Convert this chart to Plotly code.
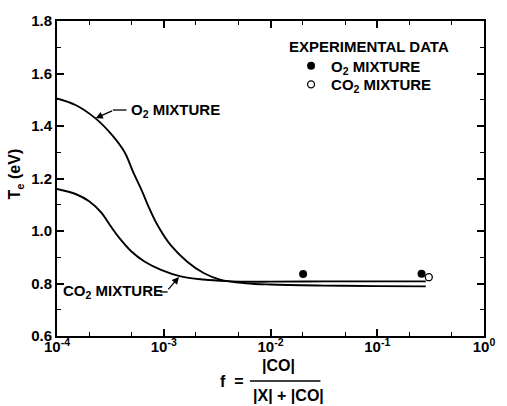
import numpy as np
import plotly.graph_objects as go

# ---- data ----
o2_f = [1.0e-4, 1.49e-4, 2.28e-4, 3.24e-4, 4.30e-4, 5.20e-4, 6.20e-4, 7.13e-4,
        8.81e-4, 1.167e-3, 1.66e-3, 2.36e-3, 3.36e-3, 5.9e-3, 1.0e-2, 3.16e-2, 0.1, 0.285]
o2_T = [1.505, 1.480, 1.430, 1.368, 1.300, 1.222, 1.156, 1.097,
        1.020, 0.945, 0.883, 0.840, 0.815, 0.801, 0.796, 0.792, 0.790, 0.789]

co2_f = [1.0e-4, 1.51e-4, 2.0e-4, 2.6e-4, 3.2e-4, 3.9e-4, 5.01e-4, 6.65e-4, 9.44e-4,
         1.442e-3, 2.36e-3, 3.86e-3, 5.9e-3, 1.0e-2, 3.16e-2, 0.1, 0.285]
co2_T = [1.160, 1.140, 1.113, 1.070, 1.017, 0.970, 0.921, 0.883, 0.852,
         0.827, 0.815, 0.809, 0.807, 0.807, 0.808, 0.808, 0.808]

exp_o2_f = [0.0202, 0.26]
exp_o2_T = [0.836, 0.837]
exp_co2_f = [0.304]
exp_co2_T = [0.824]

x_tickvals = [1e-4, 1e-3, 1e-2, 1e-1, 1.0]
x_ticktext = ["10<sup>-4</sup>", "10<sup>-3</sup>", "10<sup>-2</sup>", "10<sup>-1</sup>", "10<sup>0</sup>"]
x_minor = [m * 10.0 ** e for e in range(-4, 0) for m in (2, 5)]

FONT = "Liberation Sans, Arial, Helvetica, sans-serif"

fig = go.Figure()
fig.add_trace(go.Scatter(x=o2_f, y=o2_T, mode="lines", line=dict(color="black", width=1.9, shape="spline"),
                         showlegend=False, hoverinfo="skip"))
fig.add_trace(go.Scatter(x=co2_f, y=co2_T, mode="lines", line=dict(color="black", width=1.9, shape="spline"),
                         showlegend=False, hoverinfo="skip"))
fig.add_trace(go.Scatter(x=exp_o2_f, y=exp_o2_T, mode="markers", name="O<sub>2</sub> MIXTURE",
                         legend="legend",
                         marker=dict(symbol="circle", size=8, color="black")))
fig.add_trace(go.Scatter(x=exp_co2_f, y=exp_co2_T, mode="markers", name="CO<sub>2</sub> MIXTURE",
                         legend="legend2",
                         marker=dict(symbol="circle", size=7, color="white", line=dict(color="black", width=1.3))))

axis_common = dict(showgrid=False, zeroline=False, linecolor="black", linewidth=2, mirror="allticks",
                   ticks="inside", tickcolor="black", tickwidth=1.5, ticklen=7,
                   tickfont=dict(size=15, color="black", family=FONT, weight="bold"))

fig.update_xaxes(type="log", range=[-4, 0], tickvals=x_tickvals, ticktext=x_ticktext,
                 ticklabelstandoff=-4,
                 minor=dict(tickvals=x_minor, ticks="inside", ticklen=4, tickcolor="black", tickwidth=1.3),
                 **axis_common)
fig.update_yaxes(range=[0.6, 1.8], dtick=0.2, tick0=0.6, tickformat=".1f",
                 minor=dict(dtick=0.1, ticks="inside", ticklen=4, tickcolor="black", tickwidth=1.3),
                 **axis_common)

W, H = 507, 406
L, R, T, B = 57, 14, 14, 70
pw, ph = W - L - R, H - T - B


def px(X):
    return (X - L) / pw


def py(Y):
    return (H - B - Y) / ph


lab = dict(size=15, color="black", family=FONT, weight="bold")
ann = []
# legend heading
ann.append(dict(text="EXPERIMENTAL DATA", x=px(292), y=py(40), xref="paper", yref="paper",
                xanchor="left", yanchor="middle", showarrow=False, font=lab))
# curve labels
ann.append(dict(text="O<sub>2</sub> MIXTURE", x=px(131), y=py(105), xref="paper", yref="paper",
                xanchor="left", yanchor="middle", showarrow=False, font=lab))
ann.append(dict(text="CO<sub>2</sub> MIXTURE", x=px(61), y=py(290), xref="paper", yref="paper",
                xanchor="left", yanchor="middle", showarrow=False, font=lab))
# leader arrows
ann.append(dict(text="", x=np.log10(2.3e-4), y=1.43, xref="x", yref="y", showarrow=True,
                ax=18, ay=-8, axref="pixel", ayref="pixel", arrowhead=2, arrowsize=1.1,
                arrowwidth=1.3, arrowcolor="black"))
ann.append(dict(text="", x=np.log10(1.39e-3), y=0.825, xref="x", yref="y", showarrow=True,
                ax=-12, ay=14, axref="pixel", ayref="pixel", arrowhead=2, arrowsize=1.1,
                arrowwidth=1.3, arrowcolor="black"))
# y title
ann.append(dict(text="T<sub>e</sub> (eV)", x=px(15), y=py(170), xref="paper", yref="paper",
                textangle=-90, showarrow=False, xanchor="center", yanchor="middle",
                font=dict(size=16, color="black", family=FONT, weight="bold")))
# x title as fraction
tf = dict(size=16, color="black", family=FONT, weight="bold")
ann.append(dict(text="f  =", x=px(236), y=py(383), xref="paper", yref="paper", showarrow=False,
                xanchor="center", yanchor="middle", font=tf))
ann.append(dict(text="|CO|", x=px(283), y=py(366), xref="paper", yref="paper", showarrow=False,
                xanchor="center", yanchor="middle", font=tf))
ann.append(dict(text="|X| + |CO|", x=px(293), y=py(397), xref="paper", yref="paper", showarrow=False,
                xanchor="center", yanchor="middle", font=tf))

shapes = [
    dict(type="line", xref="paper", yref="paper", x0=px(114), x1=px(128), y0=py(105), y1=py(105),
         line=dict(color="black", width=1.3)),
    dict(type="line", xref="paper", yref="paper", x0=px(162), x1=px(170), y0=py(291), y1=py(291),
         line=dict(color="black", width=1.3)),
    dict(type="line", xref="paper", yref="paper", x0=px(254), x1=px(326), y0=py(382), y1=py(382),
         line=dict(color="black", width=1.3)),
]

leg_common = dict(xanchor="left", yanchor="middle", bgcolor="rgba(0,0,0,0)", font=lab, itemwidth=30)

fig.update_layout(
    width=W, height=H, margin=dict(l=L, r=R, t=T, b=B),
    paper_bgcolor="white", plot_bgcolor="white",
    font=dict(family=FONT, color="black", size=15, weight="bold"),
    annotations=ann, shapes=shapes,
    showlegend=True,
    legend=dict(x=px(296), y=py(60), **leg_common),
    legend2=dict(x=px(296), y=py(79), **leg_common),
)

fig.write_html("out.html")
